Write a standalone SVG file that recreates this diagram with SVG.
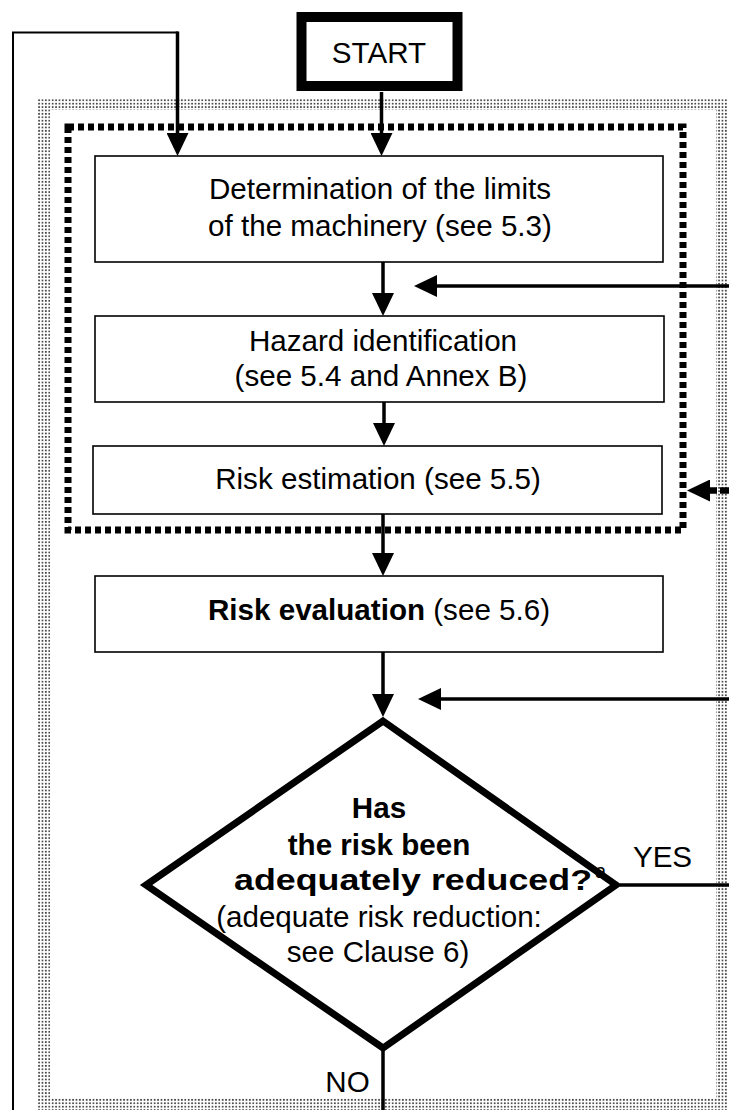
<svg xmlns="http://www.w3.org/2000/svg" width="729" height="1110" viewBox="0 0 729 1110">
  <style>
    .t { font-family: "Liberation Sans", Arial, sans-serif; font-size: 29.6px; fill: #000; }
    .b { font-weight: bold; }
    .box { fill: #fff; stroke: #000; stroke-width: 1.6; }
    .conn { fill: none; stroke: #000; stroke-width: 3.5; }
  </style>
  <defs>
    <pattern id="dots" width="3.4" height="3.4" patternUnits="userSpaceOnUse">
      <rect width="3.4" height="3.4" fill="#fff"/>
      <rect x="0.8" y="0.8" width="1.7" height="1.7" fill="#444"/>
    </pattern>
    <marker id="ah" viewBox="0 0 23 22" refX="11" refY="11" markerWidth="23" markerHeight="22" markerUnits="userSpaceOnUse" orient="auto">
      <path d="M0,0 L23,11 L0,22 Z" fill="#000"/>
    </marker>
  </defs>

  <rect width="729" height="1110" fill="#fff"/>

  <g id="frames">
    <rect id="outer-band" x="44" y="104" width="678" height="1000" fill="none" stroke="url(#dots)" stroke-width="12"/>
    <rect id="inner-dotted" x="68" y="127" width="615" height="403" fill="none" stroke="#000" stroke-width="7" stroke-dasharray="6 4"/>
  </g>

  <g id="connectors">
    <path d="M13,1110 V32.5 H178" fill="none" stroke="#000" stroke-width="2"/>
    <line x1="177.5" y1="31.5" x2="177.5" y2="144" class="conn" marker-end="url(#ah)"/>
    <line x1="381.5" y1="92" x2="381.5" y2="144" class="conn" marker-end="url(#ah)"/>
    <line x1="383" y1="262" x2="383" y2="304" class="conn" marker-end="url(#ah)"/>
    <line x1="729" y1="286" x2="426" y2="286" class="conn" stroke-width="4" marker-end="url(#ah)"/>
    <line x1="384" y1="402" x2="384" y2="434" class="conn" marker-end="url(#ah)"/>
    <line x1="729" y1="490.5" x2="698" y2="490.5" fill="none" stroke="#000" stroke-width="6.5" stroke-dasharray="9 3"/>
    <line x1="700" y1="490.5" x2="699" y2="490.5" fill="none" stroke="#000" stroke-width="0.1" marker-end="url(#ah)"/>
    <line x1="383" y1="514" x2="383" y2="564" class="conn" marker-end="url(#ah)"/>
    <line x1="383" y1="652" x2="383" y2="705" class="conn" marker-end="url(#ah)"/>
    <line x1="729" y1="699" x2="430" y2="699" class="conn" stroke-width="4" marker-end="url(#ah)"/>
    <line x1="620" y1="885" x2="729" y2="885" class="conn" stroke-width="3"/>
    <line x1="383" y1="1048" x2="383" y2="1110" class="conn" stroke-width="3"/>
  </g>

  <g id="start">
    <rect x="301.5" y="17" width="156" height="69" fill="#fff" stroke="#000" stroke-width="10"/>
    <text class="t" x="379" y="63" text-anchor="middle">START</text>
  </g>

  <g id="limits">
    <rect class="box" x="95" y="156" width="568" height="106"/>
    <text class="t" x="380" y="199" text-anchor="middle">Determination of the limits</text>
    <text class="t" x="380" y="236" text-anchor="middle">of the machinery (see 5.3)</text>
  </g>

  <g id="hazard">
    <rect class="box" x="95" y="316" width="569" height="86"/>
    <text class="t" x="383" y="351" text-anchor="middle">Hazard identification</text>
    <text class="t" x="381" y="386" text-anchor="middle">(see 5.4 and Annex B)</text>
  </g>

  <g id="estimation">
    <rect class="box" x="93" y="446" width="569" height="68"/>
    <text class="t" x="378" y="489" text-anchor="middle">Risk estimation (see 5.5)</text>
  </g>

  <g id="evaluation">
    <rect class="box" x="95" y="576" width="568" height="76"/>
    <text class="t" x="379" y="620" text-anchor="middle"><tspan class="b">Risk evaluation</tspan> (see 5.6)</text>
  </g>

  <g id="decision">
    <path d="M383,721 L616,885 L383,1048 L146,885 Z" fill="#fff" stroke="#000" stroke-width="7"/>
    <text class="t b" x="379" y="818" text-anchor="middle">Has</text>
    <text class="t b" x="379" y="855" text-anchor="middle">the risk been</text>
    <text class="t b" x="234" y="890" textLength="358" lengthAdjust="spacingAndGlyphs">adequately reduced?</text>
    <text class="t" x="595" y="878" style="font-size:20px">a</text>
    <text class="t" x="379" y="927" text-anchor="middle">(adequate risk reduction:</text>
    <text class="t" x="378" y="962" text-anchor="middle">see Clause 6)</text>
  </g>

  <g id="labels">
    <text class="t" x="662.5" y="867" text-anchor="middle">YES</text>
    <text class="t" x="347.5" y="1092" text-anchor="middle">NO</text>
  </g>
</svg>
